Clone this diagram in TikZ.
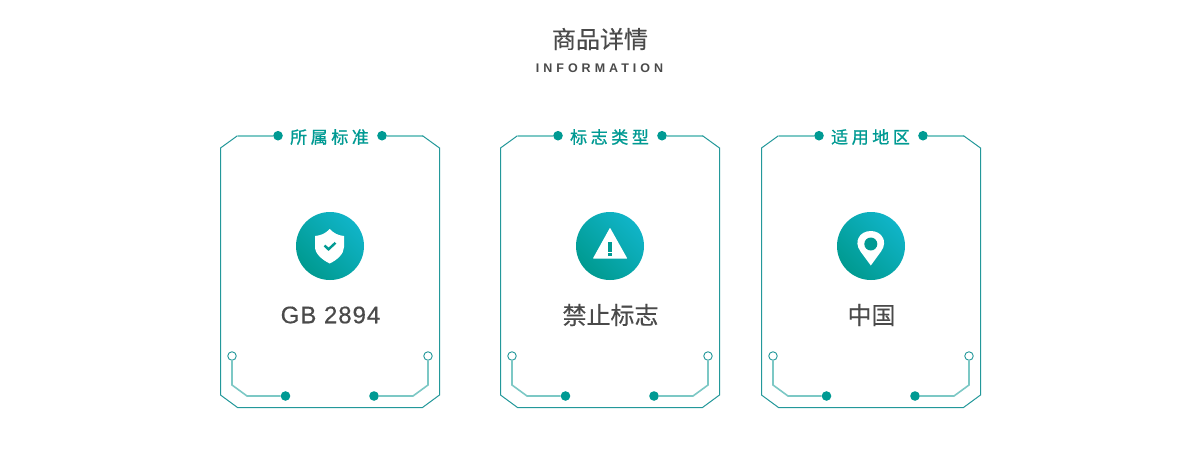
\documentclass[tikz,border=0pt]{standalone}
\usepackage{fontspec}
\setmainfont{Liberation Sans}
\newfontfamily\cjk{Noto Sans CJK SC}
\newfontfamily\cjkmed[FakeBold=0.35]{Noto Sans CJK SC}
\newfontfamily\latinmed[FakeBold=0.45,LetterSpace=4]{Liberation Sans}
\newfontfamily\latinspaced[LetterSpace=32]{Liberation Sans}
\newfontfamily\cjkspaced[LetterSpace=21,FakeBold=1.0]{Noto Sans CJK SC}
\definecolor{tealmain}{HTML}{009A93}
\definecolor{tealframe}{HTML}{23989A}
\definecolor{teallight}{HTML}{7CC8C5}
\definecolor{tealtop}{HTML}{10B4C8}
\definecolor{tealbot}{HTML}{009A90}
\definecolor{greytext}{HTML}{4A4A4A}
\tikzset{
  dotfill/.style={circle,fill=tealmain,draw=none,inner sep=0pt,minimum size=9.6pt},
  dotopen/.style={circle,fill=white,draw=tealframe,line width=0.9pt,inner sep=0pt,minimum size=8.5pt},
  frameline/.style={draw=tealframe,line width=1pt},
  circuitline/.style={draw=teallight,line width=1.6pt},
  cardlabel/.style={text=tealmain,font=\cjkspaced\fontsize{17}{19}\selectfont,inner sep=0pt},
  cardvalue/.style={text=greytext,inner sep=0pt},
  iconball/.style={circle,minimum size=68pt,inner sep=0pt,draw=none,left color=tealbot,right color=tealtop,shading angle=135},
  iconmark/.style={fill=white,draw=none},
}
\begin{document}
\begin{tikzpicture}[x=1pt,y=-1pt]
\useasboundingbox[fill=white] (0,0) rectangle (1200,475);
\node[text=greytext,font=\cjkmed\fontsize{24}{28}\selectfont,inner sep=0pt] (title) at (600,39) {商品详情};
\node[text=greytext,font=\latinspaced\bfseries\fontsize{12.5}{15}\selectfont,inner sep=0pt] (subtitle) at (599.5,68.5) {INFORMATION};
\foreach \id/\dx/\lab/\val/\valfont in {a/0/所属标准/GB 2894/\latinmed\fontsize{24}{28}\selectfont,
  b/280/标志类型/禁止标志/\cjkmed\fontsize{24}{28}\selectfont,
  c/541/适用地区/中国/\cjkmed\fontsize{24}{28}\selectfont}{
  \begin{scope}[xshift=\dx pt]
    % frame
    \node[dotfill] (\id tl) at (278,135.7) {};
    \node[dotfill] (\id tr) at (382,135.7) {};
    \node[cardlabel] (\id label) at (329.5,137) {\lab};
    \draw[circuitline] (\id tl) -- (237.5,135.7);
    \draw[circuitline] (\id tr) -- (422.5,135.7);
    \draw[frameline,line join=miter] (237.5,135.7) -- (220.5,148) -- (220.5,395) -- (237.5,407.5) -- (422.5,407.5) -- (439.5,395) -- (439.5,148) -- (422.5,135.7);
    % circuits
    \node[dotopen] (\id ol) at (232,356) {};
    \node[dotopen] (\id or) at (428,356) {};
    \node[dotfill] (\id fl) at (285.5,396) {};
    \node[dotfill] (\id fr) at (374,396) {};
    \draw[circuitline] (\id ol) -- (232,385) -- (247,396) -- (\id fl);
    \draw[circuitline] (\id or) -- (428,385) -- (413,396) -- (\id fr);
    % icon ball and value
    \node[iconball] (\id icon) at (330,246) {};
    \node[cardvalue,font=\valfont] (\id value) at (330.5,315) {\val};
  \end{scope}
}
% shield
\fill[iconmark] (329.7,229) .. controls (334,233.5) and (338.5,235.5) .. (344,236) -- (344,247) .. controls (344,254) and (337,260) .. (329.7,263.5) .. controls (322.5,260) and (315,254) .. (315,247) -- (315,236) .. controls (321,235.5) and (325.5,233.5) .. (329.7,229) -- cycle;
\draw[tealmain,line width=2.4pt] (324.5,245.5) -- (328.5,249.3) -- (335.5,242.8);
% warning
\fill[iconmark,rounded corners=0.5pt] (610,227.7) -- (627.3,258.5) -- (592.9,258.5) -- cycle;
\fill[tealmain] (608.3,241.5) rectangle (611.9,251.5);
\fill[tealmain] (608.3,252.8) rectangle (611.9,255.6);
% pin
\fill[iconmark] (870.8,265.5) -- (860.5,251.5) .. controls (856.5,246) and (857,241) .. (858.5,238) .. controls (860.5,233.5) and (865.5,231) .. (870.8,231) .. controls (876,231) and (881,233.5) .. (883,238) .. controls (884.5,241) and (885,246) .. (881,251.5) -- cycle;
\fill[tealmain] (870.8,244) circle (6.5);
\end{tikzpicture}
\end{document}
